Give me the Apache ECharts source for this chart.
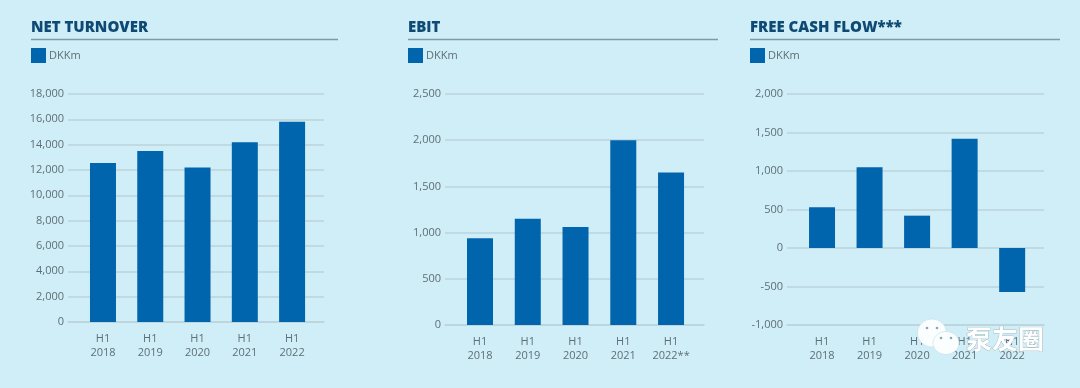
<!DOCTYPE html>
<html>
<head>
<meta charset="utf-8">
<style>
html, body { margin: 0; padding: 0; background: #d0eef7; }
#chart { width: 1080px; height: 388px; }
</style>
<script src="https://cdn.jsdelivr.net/npm/echarts@6/dist/echarts.min.js"></script>
</head>
<body>
<div id="chart"></div>
<script>
const turnoverLabels = ['H1\n2018', 'H1\n2019', 'H1\n2020', 'H1\n2021', 'H1\n2022'];
const ebitLabels = ['H1\n2018', 'H1\n2019', 'H1\n2020', 'H1\n2021', 'H1\n2022**'];
const cashLabels = ['H1\n2018', 'H1\n2019', 'H1\n2020', 'H1\n2021', 'H1\n2022'];

const turnoverValues = [12550, 13500, 12200, 14200, 15800];
const ebitValues = [940, 1150, 1060, 2000, 1650];
const cashValues = [530, 1050, 420, 1420, -570];

const FONT = '"Open Sans", "Noto Sans", sans-serif';
const TEXT = '#5f6e76';
const LINE = '#bcd3db';
const BAR = '#0065ad';

// one entry per panel, layout in px
const panels = [
    { title: 'NET TURNOVER', titleX: 31, ruleEnd: 338, labels: turnoverLabels, values: turnoverValues,
      left: 68, right: 324, top: 94, bottom: 322, min: 0, max: 18000, step: 2000, xMin: -0.74, xMax: 4.675 },
    { title: 'EBIT', titleX: 408, ruleEnd: 718, labels: ebitLabels, values: ebitValues,
      left: 445, right: 704, top: 94, bottom: 325, min: 0, max: 2500, step: 500, xMin: -0.733, xMax: 4.69 },
    { title: 'FREE CASH FLOW***', titleX: 750, ruleEnd: 1060, labels: cashLabels, values: cashValues,
      left: 787, right: 1044, top: 94, bottom: 325, min: -1000, max: 2000, step: 500, xMin: -0.737, xMax: 4.67 }
];

const chart = echarts.init(document.getElementById('chart'));

const rules = panels.map(p => ({
    type: 'line',
    shape: { x1: p.titleX, y1: 39.5, x2: p.ruleEnd, y2: 39.5 },
    style: { stroke: '#7d9aa6', lineWidth: 1.5 }
}));

// the WeChat style watermark over the lower right corner
const bubble = (cx, cy, rx, ry) => ({
    type: 'ellipse',
    z: 20,
    shape: { cx, cy, rx, ry },
    style: { fill: '#fbfeff', stroke: '#c4dbe3', lineWidth: 0.6 }
});
const eye = (cx, cy) => ({
    type: 'circle',
    z: 21,
    shape: { cx, cy, r: 1.3 },
    style: { fill: '#8fa4ae' }
});
const watermark = [
    bubble(932, 333, 14.5, 14),
    eye(927, 328), eye(937, 328),
    bubble(946, 343, 13, 11.5),
    eye(941, 338), eye(951, 338),
    {
        type: 'text',
        z: 22,
        x: 966,
        y: 326,
        style: {
            text: '泵友圈',
            font: 'bold 26px "Noto Sans CJK SC"',
            fill: '#ffffff',
            stroke: '#8a979d',
            lineWidth: 0.5
        }
    }
];

chart.setOption({
    backgroundColor: '#d0eef7',
    animation: false,
    title: panels.map(p => ({
        text: p.title,
        left: p.titleX,
        top: 20,
        padding: 0,
        textStyle: { color: '#0e4a74', fontFamily: FONT, fontWeight: 800, fontSize: 15 }
    })),
    legend: panels.map(p => ({
        left: p.titleX,
        top: 48,
        padding: 0,
        icon: 'rect',
        itemWidth: 15,
        itemHeight: 15,
        itemGap: 4,
        selectedMode: false,
        data: ['DKKm'],
        textStyle: { color: TEXT, fontFamily: FONT, fontSize: 11, padding: [0, 0, 0, -2] }
    })),
    grid: panels.map(p => ({
        left: p.left,
        top: p.top,
        width: p.right - p.left,
        height: p.bottom - p.top
    })),
    xAxis: panels.map((p, i) => ({
        type: 'value',
        gridIndex: i,
        min: p.xMin,
        max: p.xMax,
        position: 'bottom',
        splitLine: { show: false },
        axisTick: { show: false },
        axisLine: { show: true, onZero: false, lineStyle: { color: LINE, width: 1.5 } },
        axisLabel: {
            customValues: [0, 1, 2, 3, 4],
            formatter: v => p.labels[v],
            color: TEXT,
            fontFamily: FONT,
            fontSize: 11,
            lineHeight: 14,
            margin: 10
        }
    })),
    yAxis: panels.map((p, i) => ({
        type: 'value',
        gridIndex: i,
        min: p.min,
        max: p.max,
        interval: p.step,
        axisLine: { show: false },
        axisTick: { show: false },
        splitLine: { lineStyle: { color: LINE, width: 1.5 } },
        axisLabel: {
            color: TEXT,
            fontFamily: FONT,
            fontSize: 11,
            margin: 4,
            verticalAlign: 'middle',
            padding: [0, 0, 3, 0],
            formatter: v => v.toLocaleString('en-US')
        }
    })),
    series: panels.map((p, i) => ({
        name: 'DKKm',
        type: 'bar',
        xAxisIndex: i,
        yAxisIndex: i,
        barWidth: 26,
        itemStyle: { color: BAR },
        data: p.values.map((v, k) => [k, v])
    })),
    graphic: rules.concat(watermark)
});

window.addEventListener('resize', () => chart.resize());
</script>
</body>
</html>
